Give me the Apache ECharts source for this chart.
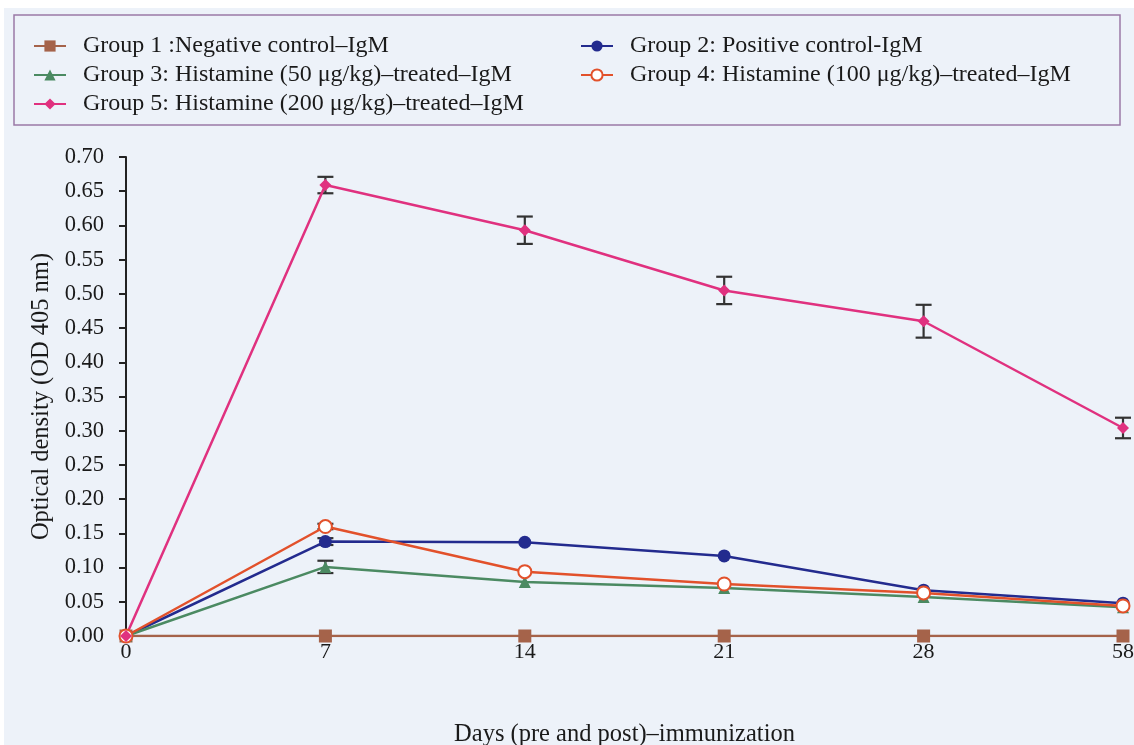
<!DOCTYPE html>
<html>
<head>
<meta charset="utf-8">
<script src="https://cdn.jsdelivr.net/npm/echarts@6/dist/echarts.min.js"></script>
<style>
  body { margin: 0; background: #fff; }
  #chart { position: absolute; left: 4px; top: 8px; width: 1130px; height: 737px; }
</style>
</head>
<body>
<div id="chart"></div>
<script>
// days on x axis (evenly spaced categories)
const days = ["0", "7", "14", "21", "28", "58"];

const groupNames = [
  "Group 1 :Negative control\u2013IgM",
  "Group 2: Positive control-IgM",
  "Group 3: Histamine (50 \u03bcg/kg)\u2013treated\u2013IgM",
  "Group 4: Histamine (100 \u03bcg/kg)\u2013treated\u2013IgM",
  "Group 5: Histamine (200 \u03bcg/kg)\u2013treated\u2013IgM",
];

// optical density values
const group1 = [0, 0, 0, 0, 0, 0];
const group2 = [0, 0.138, 0.137, 0.117, 0.067, 0.048];
const group3 = [0, 0.101, 0.079, 0.070, 0.057, 0.042];
const group4 = [0, 0.160, 0.094, 0.076, 0.063, 0.044];
const group5 = [0, 0.659, 0.593, 0.505, 0.460, 0.304];

// error bar half-widths (0 = none drawn)
const group2Err = [0, 0.005, 0, 0, 0, 0];
const group3Err = [0, 0.009, 0, 0, 0, 0];
const group4Err = [0, 0.004, 0, 0, 0, 0];
const group5Err = [0, 0.012, 0.020, 0.020, 0.024, 0.015];

const yTicks = [0, 0.7, 0.05];

const colors = ["#a5634a", "#232b8e", "#4b8a62", "#e2512b", "#e0317f"];
const font = "Liberation Serif";

const chart = echarts.init(document.getElementById("chart"));

// build error-bar rows: [index, low, high]
function errRows(vals, errs) {
  const rows = [];
  vals.forEach((v, i) => {
    if (errs[i] > 0) rows.push([i, v - errs[i], v + errs[i]]);
  });
  return rows;
}
const errData = []
  .concat(errRows(group2, group2Err))
  .concat(errRows(group3, group3Err))
  .concat(errRows(group4, group4Err))
  .concat(errRows(group5, group5Err));

function renderErr(params, api) {
  const x = api.value(0);
  const lo = api.coord([x, api.value(1)]);
  const hi = api.coord([x, api.value(2)]);
  const w = 8;
  const style = { stroke: "#333", lineWidth: 2.2 };
  return {
    type: "group",
    children: [
      { type: "line", shape: { x1: lo[0], y1: lo[1], x2: hi[0], y2: hi[1] }, style },
      { type: "line", shape: { x1: lo[0] - w, y1: lo[1], x2: lo[0] + w, y2: lo[1] }, style },
      { type: "line", shape: { x1: hi[0] - w, y1: hi[1], x2: hi[0] + w, y2: hi[1] }, style },
    ],
  };
}

const symbols = ["rect", "circle", "triangle", "emptyCircle", "diamond"];
const sizes = [13, 13, 12, 13, 12];
const values = [group1, group2, group3, group4, group5];

const lineSeries = values.map((vals, i) => ({
  name: groupNames[i],
  type: "line",
  data: vals,
  symbol: symbols[i],
  symbolSize: sizes[i],
  showAllSymbol: true,
  color: colors[i],
  lineStyle: { color: colors[i], width: 2.5 },
  itemStyle: {
    color: colors[i],
    borderWidth: i === 3 ? 2.5 : 0,
  },
  emphasis: { disabled: true },
  z: 3,
}));

const legendText = {
  fontFamily: font,
  fontSize: 24,
  color: "#1a1a1a",
  padding: [0, 0, 0, 12],
};

const option = {
  backgroundColor: "#edf2f9",
  animation: false,
  textStyle: { fontFamily: font },
  graphic: [
    {
      type: "rect",
      shape: { x: 10, y: 7, width: 1106, height: 110 },
      style: { fill: "none", stroke: "#9a7aa6", lineWidth: 1.5 },
    },
  ],
  legend: [
    {
      data: [groupNames[0], groupNames[2], groupNames[4]],
      orient: "vertical",
      left: 24,
      top: 21,
      itemGap: 5,
      itemWidth: 32,
      itemHeight: 14,
      textStyle: legendText,
    },
    {
      data: [groupNames[1], groupNames[3]],
      orient: "vertical",
      left: 571,
      top: 21,
      itemGap: 5,
      itemWidth: 32,
      itemHeight: 14,
      textStyle: legendText,
    },
  ],
  grid: { left: 122, right: 11, top: 149, bottom: 109, outerBoundsMode: "none", containLabel: false },
  xAxis: {
    type: "category",
    data: days,
    boundaryGap: false,
    axisLine: { show: false },
    axisTick: { show: false },
    axisLabel: { color: "#1a1a1a", fontSize: 22, fontFamily: font, margin: 5 },
    name: "Days (pre and post)\u2013immunization",
    nameLocation: "middle",
    nameGap: 86,
    nameTextStyle: { color: "#1a1a1a", fontSize: 24.5, fontFamily: font },
  },
  yAxis: {
    type: "value",
    min: yTicks[0],
    max: yTicks[1],
    interval: yTicks[2],
    axisLine: { show: true, lineStyle: { color: "#222", width: 2 } },
    axisTick: { show: true, length: 7, lineStyle: { color: "#222", width: 2 } },
    splitLine: { show: false },
    axisLabel: {
      color: "#1a1a1a",
      fontSize: 22.5,
      fontFamily: font,
      margin: 22,
      formatter: (v) => v.toFixed(2),
    },
    name: "Optical density (OD 405 nm)",
    nameLocation: "middle",
    nameGap: 72,
    nameTextStyle: { color: "#1a1a1a", fontSize: 24.5, fontFamily: font },
  },
  series: [
    {
      type: "custom",
      renderItem: renderErr,
      data: errData,
      z: 2,
      silent: true,
    },
  ].concat(lineSeries),
};

chart.setOption(option);
</script>
</body>
</html>
